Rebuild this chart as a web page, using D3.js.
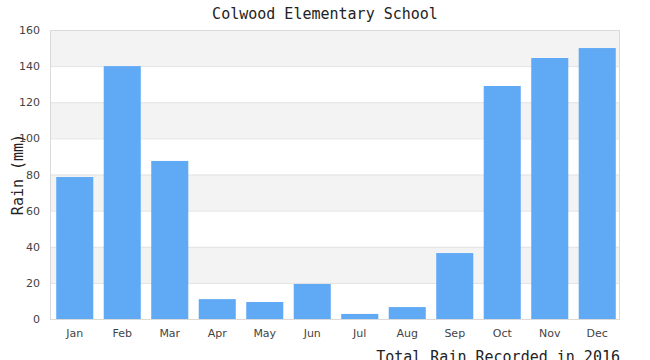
<!DOCTYPE html>
<html>
<head>
<meta charset="utf-8">
<script src="https://cdn.jsdelivr.net/npm/d3@7"></script>
<style>
  body { margin: 0; background: #fff; }
</style>
</head>
<body>
<script>
// chart data
var months = ["Jan", "Feb", "Mar", "Apr", "May", "Jun", "Jul", "Aug", "Sep", "Oct", "Nov", "Dec"];
var rain = [78.6, 140, 87.5, 11, 9.4, 19.4, 2.8, 6.6, 36.5, 129, 144.5, 150];
var yTicks = [0, 20, 40, 60, 80, 100, 120, 140, 160];

var width = 650,
    height = 360;

var margin = {top: 30, right: 30, bottom: 41, left: 50};

var svg = d3.select("body").append("svg")
    .attr("width", width)
    .attr("height", height);

var x = d3.scaleBand()
    .domain(months)
    .range([margin.left + 1, width - margin.right + 1])
    .paddingInner(0.22)
    .paddingOuter(0.11);

var y = d3.scaleLinear()
    .domain([0, 160])
    .range([height - margin.bottom, margin.top]);

// alternating background bands
var bands = yTicks.slice(0, -1);
svg.selectAll("rect.band")
    .data(bands)
    .enter().append("rect")
    .attr("class", "band")
    .attr("x", margin.left)
    .attr("width", width - margin.right - margin.left)
    .attr("y", d => y(d + 20))
    .attr("height", d => y(d) - y(d + 20))
    .attr("fill", (d, i) => i % 2 == 1 ? "#f3f3f3" : "#ffffff");

// grid lines
svg.selectAll("line.grid")
    .data(yTicks)
    .enter().append("line")
    .attr("x1", margin.left)
    .attr("x2", width - margin.right)
    .attr("y1", d => y(d) + 0.5)
    .attr("y2", d => y(d) + 0.5)
    .attr("stroke", "#e2e2e2");

// bars
svg.selectAll("rect.bar")
    .data(rain)
    .enter().append("rect")
    .attr("class", "bar")
    .attr("x", (d, i) => x(months[i]))
    .attr("width", x.bandwidth())
    .attr("y", d => y(d))
    .attr("height", d => y(0) - y(d))
    .attr("fill", "#60a9f5");

// plot border
svg.append("rect")
    .attr("x", margin.left + 0.5)
    .attr("y", margin.top + 0.5)
    .attr("width", width - margin.right - margin.left - 1)
    .attr("height", height - margin.bottom - margin.top)
    .attr("fill", "none")
    .attr("stroke", "#dadada");

// axes
var yAxis = svg.append("g")
    .attr("transform", "translate(" + margin.left + ",0)")
    .call(d3.axisLeft(y).tickValues(yTicks).tickSize(0).tickPadding(10));
yAxis.select(".domain").remove();
yAxis.selectAll("text")
    .attr("fill", "#444")
    .style("font-family", "DejaVu Sans")
    .style("font-size", "11px");

var xAxis = svg.append("g")
    .attr("transform", "translate(0," + (height - margin.bottom) + ")")
    .call(d3.axisBottom(x).tickSize(0).tickPadding(10));
xAxis.select(".domain").remove();
xAxis.selectAll("text")
    .attr("fill", "#444")
    .style("font-family", "DejaVu Sans")
    .style("font-size", "11px");

// titles
svg.append("text")
    .attr("x", 325)
    .attr("y", 19)
    .attr("text-anchor", "middle")
    .style("font-family", "DejaVu Sans Mono")
    .style("font-size", "15px")
    .attr("fill", "#222")
    .text("Colwood Elementary School");

svg.append("text")
    .attr("transform", "translate(23," + ((margin.top + height - margin.bottom) / 2) + ") rotate(-90)")
    .attr("text-anchor", "middle")
    .style("font-family", "DejaVu Sans Mono")
    .style("font-size", "15px")
    .attr("fill", "#222")
    .text("Rain (mm)");

svg.append("text")
    .attr("x", width - margin.right)
    .attr("y", 362)
    .attr("text-anchor", "end")
    .style("font-family", "DejaVu Sans Mono")
    .style("font-size", "15px")
    .attr("fill", "#222")
    .text("Total Rain Recorded in 2016");
</script>
</body>
</html>
